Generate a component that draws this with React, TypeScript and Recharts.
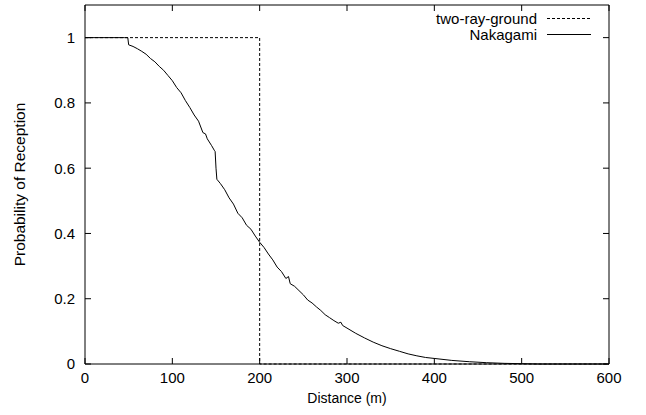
import React from "react";
import { LineChart, Line, XAxis, YAxis, Legend, Label } from "recharts";

const FONT = '"Liberation Sans", Arial, Helvetica, sans-serif';

const xTicks = [0, 100, 200, 300, 400, 500, 600];
const yTicks = [0, 0.2, 0.4, 0.6, 0.8, 1];

// two-ray-ground: step at 200 m
const twoRayX = [0, 200, 200, 600];
const twoRayY = [1, 1, 0, 0];

// Nakagami
const nakX = [
  0, 45, 49, 50, 55, 60, 65, 70, 75, 80, 85, 90, 95, 100, 105, 110, 115, 120,
  125, 130, 135, 138, 140, 145, 148, 149, 150, 151, 155, 160, 165, 170, 175,
  180, 185, 190, 195, 200, 205, 210, 215, 220, 225, 230, 233, 235, 240, 245,
  250, 255, 260, 265, 270, 275, 280, 285, 290, 293, 295, 300, 310, 320, 330,
  340, 350, 360, 370, 380, 390, 400, 420, 440, 460, 480, 500, 520, 600,
];
const nakY = [
  1, 1, 1, 0.978, 0.973, 0.966, 0.958, 0.949, 0.936, 0.926, 0.912, 0.9, 0.884,
  0.868, 0.847, 0.831, 0.807, 0.786, 0.763, 0.744, 0.709, 0.705, 0.69, 0.669,
  0.655, 0.651, 0.6, 0.566, 0.553, 0.534, 0.509, 0.49, 0.462, 0.448, 0.425,
  0.413, 0.392, 0.373, 0.357, 0.337, 0.319, 0.297, 0.283, 0.262, 0.268, 0.246,
  0.238, 0.225, 0.212, 0.196, 0.187, 0.175, 0.164, 0.151, 0.142, 0.133, 0.125,
  0.128, 0.118, 0.11, 0.094, 0.08, 0.067, 0.056, 0.047, 0.039, 0.031, 0.025,
  0.02, 0.017, 0.011, 0.007, 0.004, 0.002, 0.001, 0, 0,
];

const seriesNames = ["two-ray-ground", "Nakagami"];

const twoRayData = twoRayX.map((x, i) => ({ x, p: twoRayY[i] }));
const nakData = nakX.map((x, i) => ({ x, p: nakY[i] }));

function renderLegend() {
  return (
    <div style={{ fontFamily: FONT, fontSize: 15, color: "#000" }}>
      {seriesNames.map((name, i) => (
        <div key={name} style={{ display: "flex", alignItems: "center", justifyContent: "flex-end", height: 15.5 }}>
          <span style={{ lineHeight: "15px" }}>{name}</span>
          <svg width={44} height={15} style={{ marginLeft: 10 }}>
            <line x1={0} x2={44} y1={7.5} y2={7.5} stroke="#000" strokeWidth={1} strokeDasharray={i === 0 ? "3 2" : undefined} />
          </svg>
        </div>
      ))}
    </div>
  );
}

export default function App() {
  const tick = { fill: "#000", fontSize: 15, fontFamily: FONT };
  return (
    <div style={{ position: "absolute", left: 0, top: 0, width: 646, height: 415, background: "#fff" }}>
      <LineChart width={646} height={415} margin={{ top: 4, right: 36, bottom: 0, left: 0 }}>
        <XAxis
          xAxisId="b"
          dataKey="x"
          type="number"
          domain={[0, 600]}
          ticks={xTicks}
          height={51}
          tick={tick}
          tickSize={-6}
          tickMargin={14}
          stroke="#000"
          axisLine={{ stroke: "#000" }}
          tickLine={{ stroke: "#000" }}
        >
          <Label value="Distance (m)" position="insideBottom" offset={12} style={{ fontFamily: FONT, fontSize: 14, fill: "#000" }} />
        </XAxis>
        <XAxis
          xAxisId="t"
          orientation="top"
          dataKey="x"
          type="number"
          domain={[0, 600]}
          ticks={xTicks}
          height={1}
          tick={{ fontSize: 1, fill: "none" }}
          tickFormatter={() => ""}
          tickSize={-6}
          stroke="#000"
          axisLine={{ stroke: "#000" }}
          tickLine={{ stroke: "#000" }}
        />
        <YAxis
          yAxisId="l"
          type="number"
          domain={[0, 1.1]}
          ticks={yTicks}
          width={85}
          tick={tick}
          tickSize={-6}
          tickMargin={16}
          axisLine={{ stroke: "#000" }}
          tickLine={{ stroke: "#000" }}
        >
          <Label
            value="Probability of Reception"
            angle={-90}
            position="insideLeft"
            offset={19}
            style={{ fontFamily: FONT, fontSize: 15.5, fill: "#000", textAnchor: "middle" }}
          />
        </YAxis>
        <YAxis
          yAxisId="r"
          orientation="right"
          type="number"
          domain={[0, 1.1]}
          ticks={yTicks}
          width={1}
          tick={{ fontSize: 1, fill: "none" }}
          tickFormatter={() => ""}
          tickSize={-6}
          stroke="#000"
          axisLine={{ stroke: "#000" }}
          tickLine={{ stroke: "#000" }}
        />
        <Legend
          layout="vertical"
          align="center"
          verticalAlign="middle"
          content={renderLegend}
          wrapperStyle={{ position: "absolute", left: 400, top: 11, width: 191, height: 31 }}
        />
        {/* invisible series so the mirrored top/right axes get drawn */}
        <Line
          xAxisId="t"
          yAxisId="r"
          data={twoRayData}
          dataKey="p"
          legendType="none"
          stroke="none"
          dot={false}
          activeDot={false}
          isAnimationActive={false}
        />
        <Line
          xAxisId="b"
          yAxisId="l"
          data={twoRayData}
          dataKey="p"
          name={seriesNames[0]}
          type="linear"
          stroke="#000"
          strokeWidth={1}
          strokeDasharray="3 2"
          dot={false}
          activeDot={false}
          isAnimationActive={false}
        />
        <Line
          xAxisId="b"
          yAxisId="l"
          data={nakData}
          dataKey="p"
          name={seriesNames[1]}
          type="linear"
          stroke="#000"
          strokeWidth={1}
          dot={false}
          activeDot={false}
          isAnimationActive={false}
        />
      </LineChart>
    </div>
  );
}
